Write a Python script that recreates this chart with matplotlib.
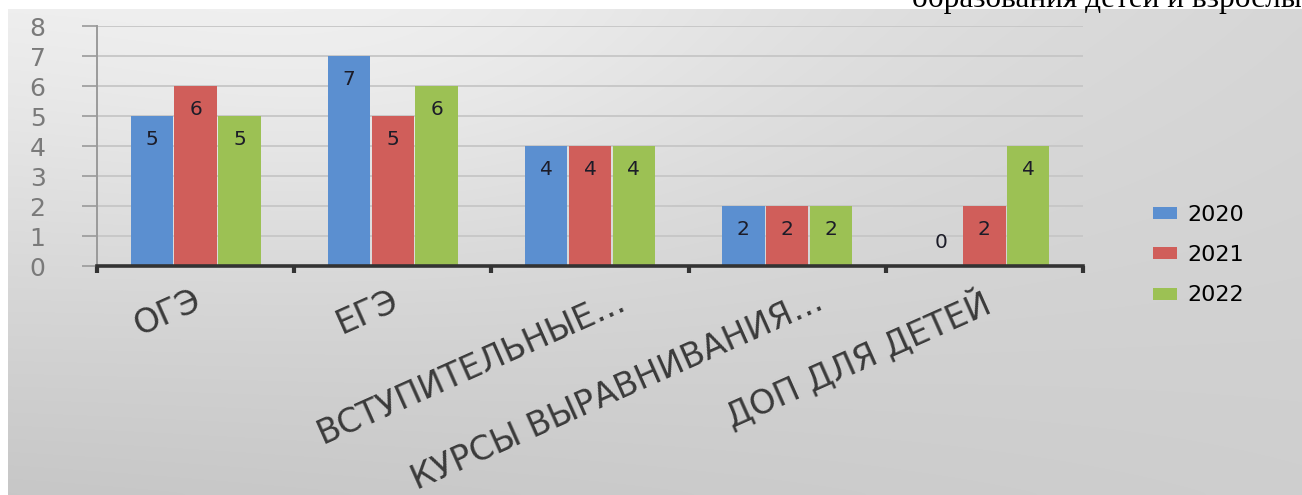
import numpy as np
import matplotlib
matplotlib.use("Agg")
import matplotlib.pyplot as plt

# Data
categories = ["ОГЭ", "ЕГЭ", "ВСТУПИТЕЛЬНЫЕ...", "КУРСЫ ВЫРАВНИВАНИЯ...", "ДОП ДЛЯ ДЕТЕЙ"]
years = ["2020", "2021", "2022"]
values_2020 = [5, 7, 4, 2, 0]
values_2021 = [6, 5, 4, 2, 2]
values_2022 = [5, 6, 4, 2, 4]
y_ticks = [0, 1, 2, 3, 4, 5, 6, 7, 8]
header_text = "образования детей и взрослых"

series = [values_2020, values_2021, values_2022]
colors = ["#5B8FD0", "#D05E5A", "#9CC154"]

W, H = 1302, 495
fig = plt.figure(figsize=(W / 100, H / 100), dpi=100)
fig.patch.set_facecolor("white")

# Gradient backdrop behind the chart
bg = fig.add_axes([8 / W, 0, 1 - 8 / W, (H - 9) / H], zorder=0)
gx = np.linspace(0, 1, 300)
gy = np.linspace(0, 1, 120)
X, Y = np.meshgrid(gx, gy)
tl, tr, bl, br = 0.92, 0.84, 0.78, 0.81
grad = (tl * (1 - X) * (1 - Y) + tr * X * (1 - Y) + bl * (1 - X) * Y + br * X * Y)
grad += 0.04 * np.exp(-(((X - 0.3) / 0.3) ** 2 + ((Y - 0.1) / 0.4) ** 2))
grad = np.clip(grad, 0, 1)
bg.imshow(np.dstack([grad] * 3), aspect="auto", extent=(0, 1, 1, 0), interpolation="bicubic")
bg.set_axis_off()

# Header line of surrounding document text
fig.text(912 / W, 1 - 7 / H, header_text, fontsize=22.5, family="Liberation Serif",
         color="black", ha="left", va="baseline")

ax = fig.add_axes([97 / W, (H - 266) / H, (1083 - 97) / W, 240 / H], zorder=1)
ax.set_facecolor("none")

x = np.arange(len(categories))
width = 0.215
offsets = [-0.222, 0.0, 0.222]
for vals, off, col, yr in zip(series, offsets, colors, years):
    ax.bar(x + off, vals, width=width, color=col, label=yr, zorder=3)
    for xi, v in zip(x + off, vals):
        ly = v - 0.77 if v > 0 else 0.77
        ax.text(xi, ly, str(v), ha="center", va="center", fontsize=14.5,
                family="DejaVu Sans", color="#1c1c28", zorder=4)

ax.set_xlim(-0.5, len(categories) - 0.5)
ax.set_ylim(0, 8)
ax.set_yticks(y_ticks)
ax.set_yticklabels([str(t) for t in y_ticks], fontsize=18, family="DejaVu Sans", color="#7a7a7a")
ax.tick_params(axis="y", direction="out", length=11, width=1.2, color="#9a9a9a", pad=26)
ax.yaxis.grid(True, color="#c6c6c6", linewidth=1.3, zorder=1)
ax.set_axisbelow(True)

ax.set_xticks(np.arange(-0.5, len(categories), 1.0))
ax.set_xticklabels([])
ax.tick_params(axis="x", direction="out", length=5, width=3, color="#333333")

for s in ["top", "right"]:
    ax.spines[s].set_visible(False)
ax.spines["left"].set_color("#9a9a9a")
ax.spines["left"].set_linewidth(1.4)
ax.spines["bottom"].set_color("#333333")
ax.spines["bottom"].set_linewidth(2.6)
ax.spines["bottom"].set_zorder(5)

# Category labels under the groups; truncated names sit a little further right
for xi, name in zip(x, categories):
    dx = 20 if name.endswith("...") else -2
    ax.annotate(name, xy=(xi, 0), xycoords=("data", "axes fraction"),
                xytext=(dx, -13), textcoords="offset points",
                rotation=24, rotation_mode="anchor", ha="right", va="top",
                fontsize=24, family="DejaVu Sans", color="#3a3a3a")

ax.legend(loc="center left", bbox_to_anchor=(1153 / W, (H - 255) / H),
          bbox_transform=fig.transFigure, frameon=False,
          prop={"family": "DejaVu Sans", "size": 16},
          handlelength=1.1, handleheight=0.45, handletextpad=0.45,
          labelspacing=0.92, borderpad=0, borderaxespad=0)

fig.savefig("out.png", dpi=100)
